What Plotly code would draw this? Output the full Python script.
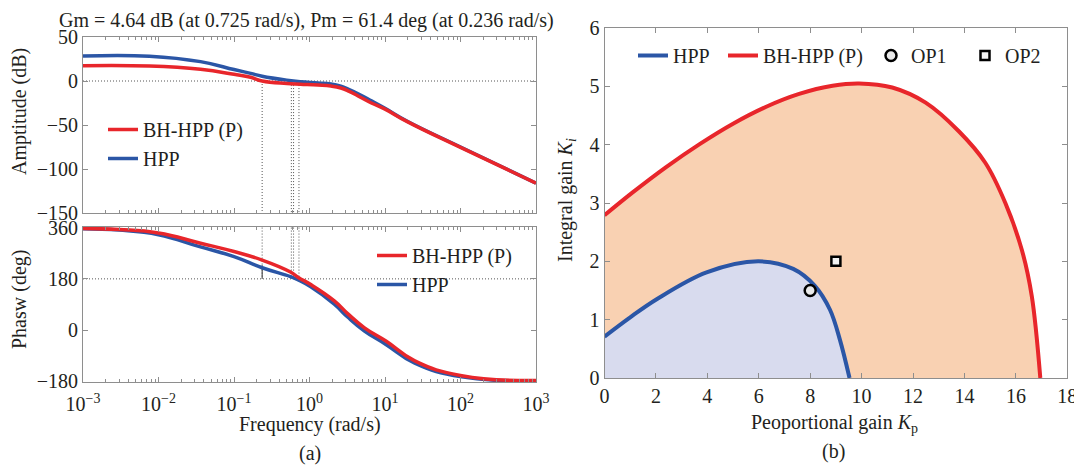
import plotly.graph_objects as go

# ---------------- data ----------------
# (a) Bode magnitude
freq_mag = [1e-3, 7.6e-3, 0.036, 0.1, 0.166, 0.236, 0.5, 0.76, 1.3, 1.92, 2.6, 3.3, 4.4, 6.6, 10, 20, 100, 1000]
mag_hpp = [28.4, 28.2, 22.0, 13.0, 8.7, 5.5, 1.0, -0.8, -2.2, -3.5, -6.0, -9.5, -14.5, -22.5, -31.0, -46.0, -75.0, -116.0]
mag_bh = [17.4, 17.0, 13.3, 7.6, 4.2, 0.0, -2.8, -3.6, -4.6, -5.8, -8.0, -11.5, -17.0, -25.0, -32.0, -46.5, -75.5, -116.0]

# (a) Bode phase
freq_ph = [1e-3, 3e-3, 1e-2, 0.035, 0.1, 0.236, 0.56, 0.72, 1.04, 2.13, 3.2, 5.35, 10.4, 24.8, 104, 1000]
ph_hpp = [356, 351, 335, 293, 258, 219, 188, 175, 152, 91, 46, -3, -51, -116, -164, -178]
ph_bh = [357, 353, 341, 306, 276, 246, 204, 184, 160, 103, 58, 8, -39, -108, -160, -177]

# margin markers
freq_span = [1e-3, 1e3]
margin_freqs = [0.236, 0.575, 0.615, 0.725]
pm_freq = 0.236
pm_seg = [180, 228]
gm_db = -4.64

# (b) stability regions
kp_hpp = [0, 1.0, 2.03, 3.97, 5.98, 7.34, 8.18, 8.77, 9.16, 9.53]
ki_hpp = [0.71, 1.04, 1.35, 1.81, 2.0, 1.87, 1.58, 1.17, 0.65, 0.0]
kp_bh = [0, 1.12, 2.41, 3.70, 5.0, 6.29, 7.57, 8.87, 9.90, 11.19, 12.49, 13.78, 14.81, 15.59, 16.23, 16.62, 16.95]
ki_bh = [2.79, 3.19, 3.62, 4.01, 4.36, 4.65, 4.87, 5.01, 5.05, 4.98, 4.72, 4.23, 3.69, 3.0, 2.2, 1.40, 0.0]
op1 = (8, 1.5)
op2 = (9, 2.0)

# ticks
log_tickvals = [1e-3, 1e-2, 1e-1, 1, 10, 100, 1000]
log_ticktext = ["10<sup>−3</sup>", "10<sup>−2</sup>", "10<sup>−1</sup>", "10<sup>0</sup>",
                "10<sup>1</sup>", "10<sup>2</sup>", "10<sup>3</sup>"]
mag_tickvals = [50, 0, -50, -100, -150]
mag_ticktext = ["50", "0", "−50", "−100", "−150"]
ph_tickvals = [360, 180, 0, -180]
ph_ticktext = ["360", "180", "0", "−180"]
kp_tickvals = [0, 2, 4, 6, 8, 10, 12, 14, 16, 18]
ki_tickvals = [0, 1, 2, 3, 4, 5, 6]

# ---------------- style ----------------
W, H = 1082, 466
OFF = 8  # page body margin
RED = "#e8262b"
BLUE = "#2b56a6"
ORANGE_FILL = "#f9d1b2"
LAV_FILL = "#d8dbee"
TXT = "#231f20"
AX = "#8e8e8e"
FONT = "Liberation Serif"
DOT = dict(color="#555555", width=1, dash="1px,2px")
SM = 1.3
SM_B = 1.0
LW_A = 3.5
LW_B = 4

minor_log = [m * 10 ** e for e in range(-3, 3) for m in range(2, 10)]

fig = go.Figure()

# ---- magnitude ----
fig.add_trace(go.Scatter(x=freq_span, y=[0, 0], mode="lines", line=DOT,
                         xaxis="x", yaxis="y", showlegend=False, hoverinfo="skip"))
for i, f in enumerate(margin_freqs):
    top = 0 if i == 0 else gm_db
    fig.add_trace(go.Scatter(x=[f, f], y=[top, -150], mode="lines", line=DOT,
                             xaxis="x", yaxis="y", showlegend=False, hoverinfo="skip"))
fig.add_trace(go.Scatter(x=freq_mag, y=mag_hpp, mode="lines", name="HPP",
                         line=dict(color=BLUE, width=LW_A, shape="spline", smoothing=SM),
                         xaxis="x", yaxis="y", legend="legend", legendrank=2))
fig.add_trace(go.Scatter(x=freq_mag, y=mag_bh, mode="lines", name="BH-HPP (P)",
                         line=dict(color=RED, width=LW_A, shape="spline", smoothing=SM),
                         xaxis="x", yaxis="y", legend="legend", legendrank=1))

# ---- phase ----
fig.add_trace(go.Scatter(x=freq_span, y=[180, 180], mode="lines", line=DOT,
                         xaxis="x2", yaxis="y2", showlegend=False, hoverinfo="skip"))
for f in margin_freqs:
    fig.add_trace(go.Scatter(x=[f, f], y=[360, 180], mode="lines", line=DOT,
                             xaxis="x2", yaxis="y2", showlegend=False, hoverinfo="skip"))
fig.add_trace(go.Scatter(x=[pm_freq, pm_freq], y=pm_seg, mode="lines",
                         line=dict(color="#333333", width=1),
                         xaxis="x2", yaxis="y2", showlegend=False, hoverinfo="skip"))
fig.add_trace(go.Scatter(x=freq_ph, y=ph_hpp, mode="lines", name="HPP",
                         line=dict(color=BLUE, width=LW_A, shape="spline", smoothing=SM),
                         xaxis="x2", yaxis="y2", legend="legend2", legendrank=2))
fig.add_trace(go.Scatter(x=freq_ph, y=ph_bh, mode="lines", name="BH-HPP (P)",
                         line=dict(color=RED, width=LW_A, shape="spline", smoothing=SM),
                         xaxis="x2", yaxis="y2", legend="legend2", legendrank=1))

# ---- stability regions ----
fig.add_trace(go.Scatter(x=kp_bh, y=ki_bh, mode="lines", fill="tozeroy", fillcolor=ORANGE_FILL,
                         line=dict(color=ORANGE_FILL, width=0, shape="spline", smoothing=SM_B),
                         xaxis="x3", yaxis="y3", showlegend=False, hoverinfo="skip"))
fig.add_trace(go.Scatter(x=kp_hpp, y=ki_hpp, mode="lines", fill="tozeroy", fillcolor=LAV_FILL,
                         line=dict(color=LAV_FILL, width=0, shape="spline", smoothing=SM_B),
                         xaxis="x3", yaxis="y3", showlegend=False, hoverinfo="skip"))
fig.add_trace(go.Scatter(x=kp_hpp, y=ki_hpp, mode="lines", name="HPP",
                         line=dict(color=BLUE, width=LW_B, shape="spline", smoothing=SM_B),
                         xaxis="x3", yaxis="y3", legend="legend3"))
fig.add_trace(go.Scatter(x=kp_bh, y=ki_bh, mode="lines", name="BH-HPP (P)",
                         line=dict(color=RED, width=LW_B, shape="spline", smoothing=SM_B),
                         xaxis="x3", yaxis="y3", legend="legend4"))
fig.add_trace(go.Scatter(x=[op1[0]], y=[op1[1]], mode="markers", name="OP1",
                         marker=dict(symbol="circle", size=11, color="#e9e9e9",
                                     line=dict(color="black", width=2.5)),
                         xaxis="x3", yaxis="y3", legend="legend5"))
fig.add_trace(go.Scatter(x=[op2[0]], y=[op2[1]], mode="markers", name="OP2",
                         marker=dict(symbol="square", size=9, color="#f2f2f2",
                                     line=dict(color="black", width=2.5)),
                         xaxis="x3", yaxis="y3", legend="legend6"))


def px_x(p):
    return (p - OFF) / W


def px_y(p):
    return 1 - (p - OFF) / H


base_axis = dict(showline=True, linecolor=AX, linewidth=1, mirror="allticks",
                 ticks="inside", ticklen=5, tickcolor=AX, tickwidth=1,
                 showgrid=False, zeroline=False, automargin=False,
                 tickfont=dict(family=FONT, size=20, color=TXT))

minor_x = dict(tickmode="array", tickvals=minor_log, ticks="inside", ticklen=3,
               tickcolor=AX, showgrid=False)


def leg(xp, yp, horizontal=False):
    d = dict(x=px_x(xp), y=px_y(yp), xanchor="left", yanchor="top",
             bgcolor="rgba(0,0,0,0)", font=dict(family=FONT, size=20, color=TXT),
             tracegroupgap=0)
    if horizontal:
        d["orientation"] = "h"
    return d


fig.update_layout(
    width=W, height=H,
    margin=dict(l=0, r=0, t=0, b=0, autoexpand=False),
    paper_bgcolor="white", plot_bgcolor="white",
    font=dict(family=FONT, size=20, color=TXT),
    xaxis=dict(base_axis, type="log", domain=[px_x(83), px_x(536)], range=[-3, 3],
               anchor="y", showticklabels=False, tickvals=log_tickvals, minor=minor_x),
    yaxis=dict(base_axis, domain=[px_y(213), px_y(37)], range=[-150, 50], anchor="x",
               tickvals=mag_tickvals, ticktext=mag_ticktext),
    xaxis2=dict(base_axis, type="log", domain=[px_x(83), px_x(536)], range=[-3, 3],
                anchor="y2", tickvals=log_tickvals, ticktext=log_ticktext, minor=minor_x,
                ticklabelstandoff=4),
    yaxis2=dict(base_axis, domain=[px_y(382), px_y(227)], range=[-182, 362], anchor="x2",
                tickvals=ph_tickvals, ticktext=ph_ticktext),
    xaxis3=dict(base_axis, domain=[px_x(604.5), px_x(1067.3)], range=[0, 18], anchor="y3",
                tickvals=kp_tickvals),
    yaxis3=dict(base_axis, domain=[px_y(378), px_y(28)], range=[0, 6], anchor="x3",
                tickvals=ki_tickvals),
    legend=leg(103, 110),
    legend2=leg(372, 236),
    legend3=leg(633, 36, True),
    legend4=leg(723, 36, True),
    legend5=leg(871, 36, True),
    legend6=leg(965, 36, True),
    showlegend=True,
)

annotations = [
    dict(text="Gm = 4.64 dB (at 0.725 rad/s), Pm = 61.4 deg (at 0.236 rad/s)", x=306, y=20.5),
    dict(text="Frequency (rad/s)", x=310, y=424),
    dict(text="(a)", x=310, y=453),
    dict(text="Peoportional gain <i>K</i><sub>p</sub>", x=834, y=423),
    dict(text="(b)", x=833, y=451),
    dict(text="Amptitude (dB)", x=19, y=112, textangle=-90),
    dict(text="Phasw (deg)", x=19, y=300, textangle=-90),
    dict(text="Integral gain <i>K<sub>i</sub></i>", x=566, y=200, textangle=-90),
]
for a in annotations:
    fig.add_annotation(text=a["text"], x=px_x(a["x"]), y=px_y(a["y"]), xref="paper", yref="paper",
                       xanchor="center", yanchor="middle", showarrow=False,
                       textangle=a.get("textangle", 0),
                       font=dict(family=FONT, size=20, color=TXT))

fig.write_html("out.html")
